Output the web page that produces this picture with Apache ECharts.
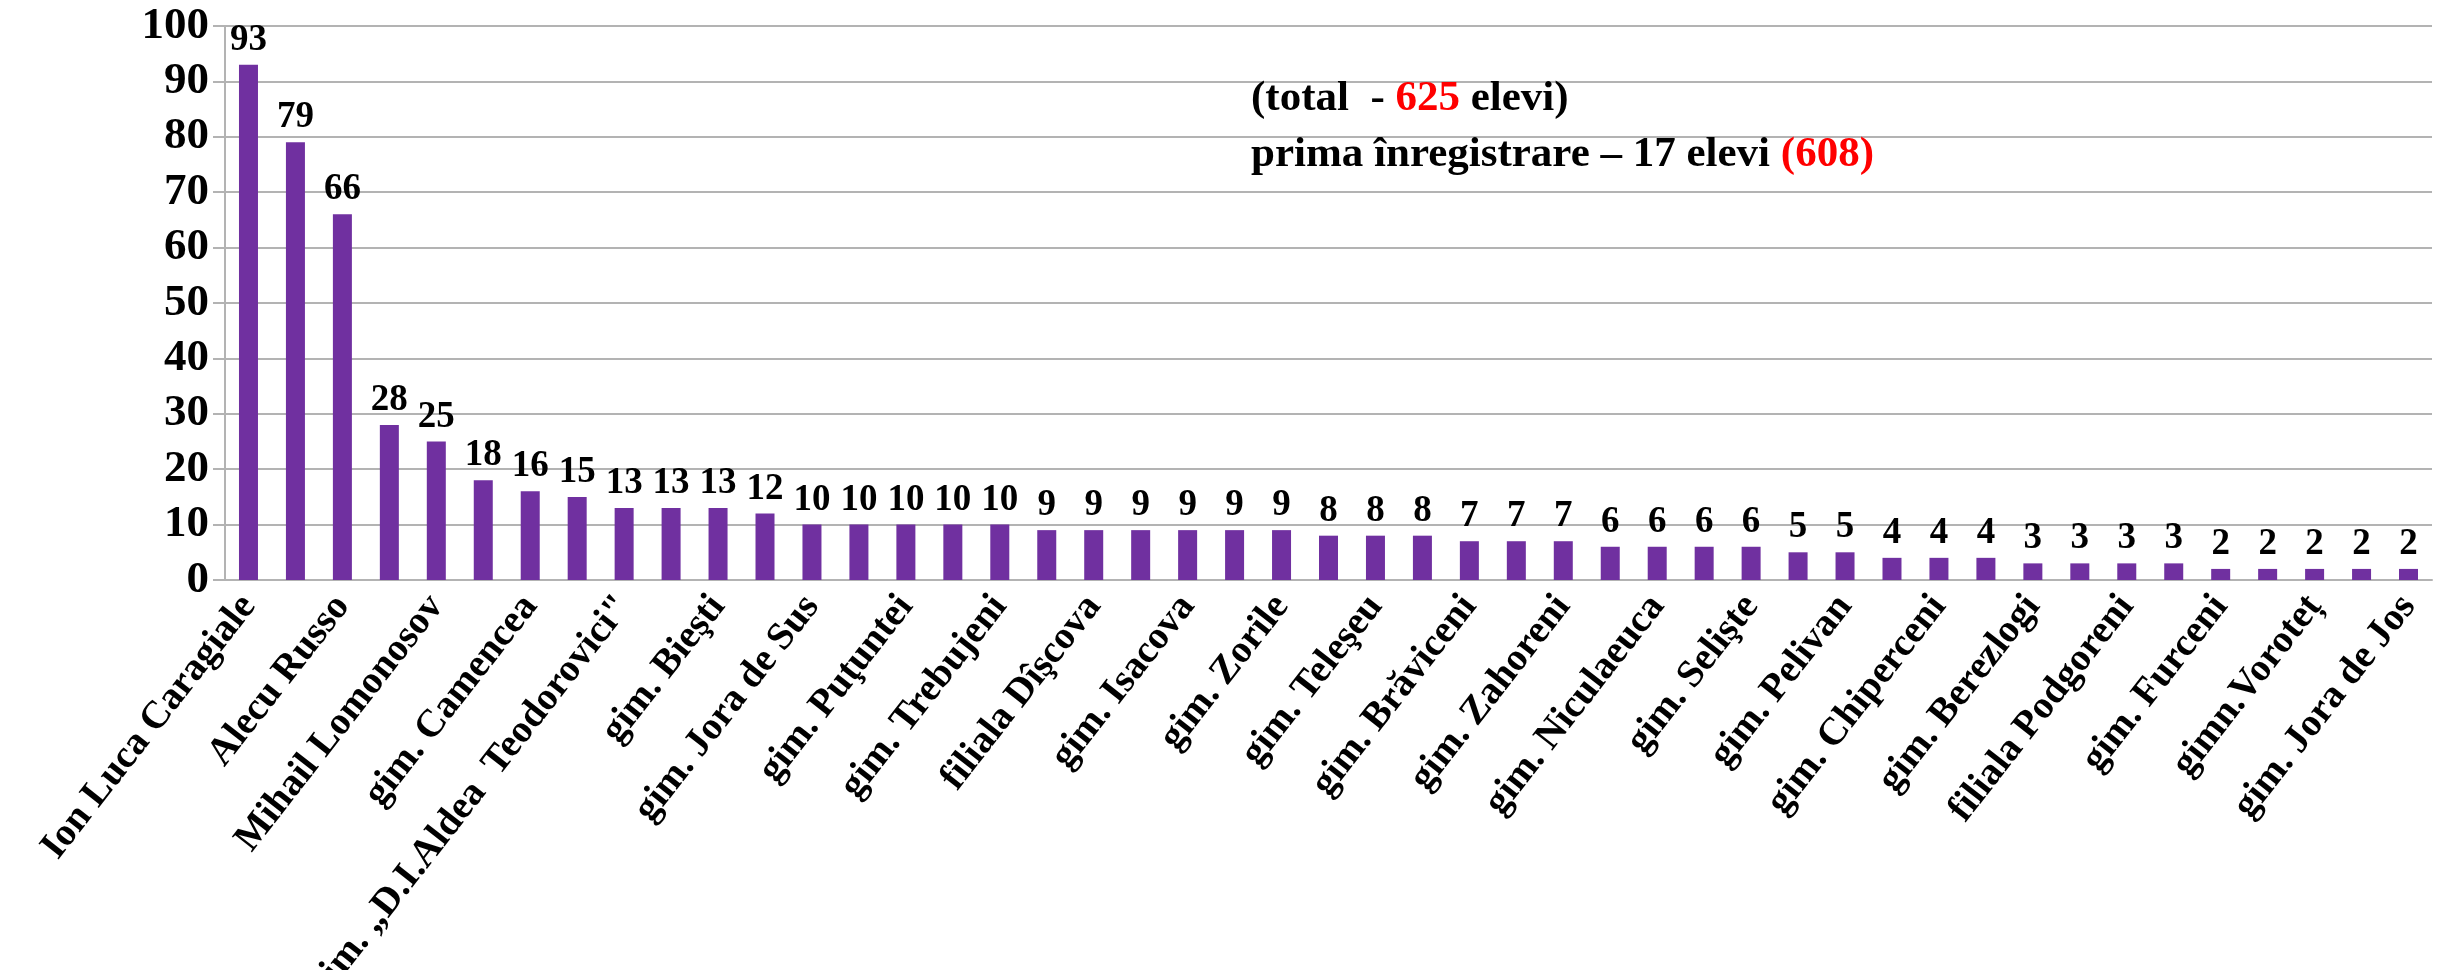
<!DOCTYPE html>
<html lang="ro" style="height: 100%">

<head>
    <meta charset="UTF-8">
    <title>Elevi</title>
    <script type="text/javascript" src="https://cdn.jsdelivr.net/npm/echarts@6/dist/echarts.min.js"></script>
</head>

<body style="height: 100%; margin: 0; background: #fff">
    <div id="container" style="width: 2450px; height: 970px"></div>
    <script type="text/javascript">
    // only every second school name is printed on the axis; the others are unknown
    var schools = [
        'Ion Luca Caragiale', '', 'Alecu Russo', '', 'Mihail Lomonosov', '',
        'gim. Camencea', '', 'gim. „D.I.Aldea  Teodorovici"', '', 'gim. Bieşti', '',
        'gim. Jora de Sus', '', 'gim. Puţuntei', '', 'gim. Trebujeni', '',
        'filiala Dîşcova', '', 'gim. Isacova', '', 'gim. Zorile', '',
        'gim. Teleşeu', '', 'gim. Brăviceni', '', 'gim. Zahoreni', '',
        'gim. Niculaeuca', '', 'gim. Selişte', '', 'gim. Pelivan', '',
        'gim. Chiperceni', '', 'gim. Berezlogi', '', 'filiala Podgoreni', '',
        'gim. Furceni', '', 'gimn.Voroteț', '', 'gim. Jora de Jos'
    ];
    var elevi = [
        93, 79, 66, 28, 25, 18, 16, 15, 13, 13, 13, 12,
        10, 10, 10, 10, 10, 9, 9, 9, 9, 9, 9, 8, 8, 8,
        7, 7, 7, 6, 6, 6, 6, 5, 5, 4, 4, 4, 3, 3, 3, 3,
        2, 2, 2, 2, 2
    ];
    var yTicks = [0, 100, 10];

    var serif = "'Liberation Serif', 'Times New Roman', serif";
    var gridGray = '#b3b3b3';

    var myChart = echarts.init(document.getElementById('container'));

    var option = {
        backgroundColor: '#fff',
        animation: false,
        title: {
            left: 1246,
            top: 66,
            text: '(total  - {r|625} elevi)\nprima înregistrare – 17 elevi {r|(608)}',
            textStyle: {
                fontFamily: serif,
                fontWeight: 'bold',
                fontSize: 43,
                lineHeight: 56,
                color: '#000',
                rich: {
                    r: {
                        fontFamily: serif,
                        fontWeight: 'bold',
                        fontSize: 43,
                        lineHeight: 56,
                        color: '#ff0000'
                    }
                }
            }
        },
        grid: {
            left: 225,
            right: 18,
            top: 26,
            bottom: 390,
            outerBoundsMode: 'none'
        },
        xAxis: {
            type: 'category',
            data: schools,
            axisLine: {
                lineStyle: { color: gridGray, width: 2 }
            },
            axisTick: {
                length: 11,
                lineStyle: { color: gridGray, width: 2 }
            },
            axisLabel: {
                interval: 1,
                rotate: 52,
                margin: 20,
                fontFamily: serif,
                fontWeight: 'bold',
                fontSize: 39,
                color: '#000'
            }
        },
        yAxis: {
            type: 'value',
            min: yTicks[0],
            max: yTicks[1],
            interval: yTicks[2],
            axisLine: {
                show: true,
                lineStyle: { color: gridGray, width: 2 }
            },
            axisTick: {
                show: true,
                length: 12,
                lineStyle: { color: gridGray, width: 2 }
            },
            splitLine: {
                lineStyle: { color: gridGray, width: 2 }
            },
            axisLabel: {
                margin: 16,
                fontFamily: serif,
                fontWeight: 'bold',
                fontSize: 45,
                color: '#000'
            }
        },
        series: [{
            type: 'bar',
            data: elevi,
            barWidth: 19,
            itemStyle: { color: '#7030a0' },
            label: {
                show: true,
                position: 'top',
                distance: 6,
                fontFamily: serif,
                fontWeight: 'bold',
                fontSize: 37,
                color: '#000'
            }
        }]
    };

    myChart.setOption(option);
    </script>
</body>

</html>
